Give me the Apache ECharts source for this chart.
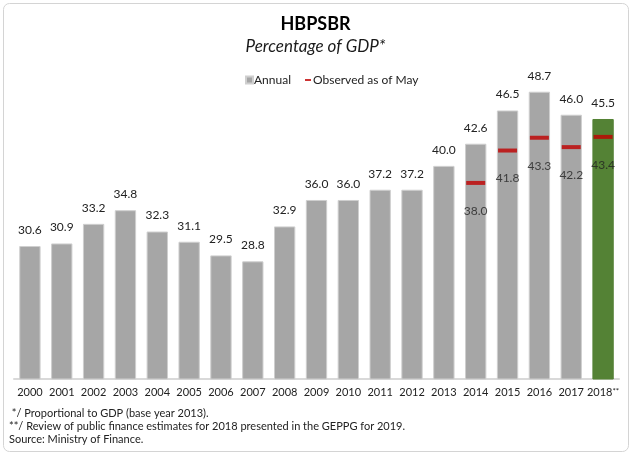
<!DOCTYPE html>
<html>
<head>
<meta charset="utf-8">
<script src="https://cdn.jsdelivr.net/npm/echarts@6/dist/echarts.min.js"></script>
<style>
  html, body { margin: 0; padding: 0; background: #fff; }
  #chart { width: 631px; height: 453px; }
</style>
</head>
<body>
<div id="chart"></div>
<script>
const years = ['2000', '2001', '2002', '2003', '2004', '2005', '2006', '2007', '2008', '2009',
  '2010', '2011', '2012', '2013', '2014', '2015', '2016', '2017', '2018**'];
const annual = [30.6, 30.9, 33.2, 34.8, 32.3, 31.1, 29.5, 28.8, 32.9, 36.0,
  36.0, 37.2, 37.2, 40.0, 42.6, 46.5, 48.7, 46.0, 45.5];
const mayYears = ['2014', '2015', '2016', '2017', '2018**'];
const mayValues = [38.0, 41.8, 43.3, 42.2, 43.4];
const notes = [
  ' */ Proportional to GDP (base year 2013).',
  '**/ Review of public finance estimates for 2018 presented in the GEPPG for 2019.',
  'Source: Ministry of Finance.'
];

const font = 'Lato';
const chart = echarts.init(document.getElementById('chart'));

const barData = annual.map((v, i) => {
  if (i === annual.length - 1) {
    return { value: v, itemStyle: { color: '#548235', borderColor: '#548235' } };
  }
  return v;
});

const option = {
  animation: false,
  textStyle: { fontFamily: font },
  title: {
    text: 'HBPSBR',
    subtext: 'Percentage of GDP*',
    left: 'center',
    top: 10,
    itemGap: 5,
    textStyle: { fontFamily: font, fontSize: 18, fontWeight: 'bold', color: '#000' },
    subtextStyle: { fontFamily: font, fontSize: 17, fontStyle: 'italic', color: '#1a1a1a' }
  },
  legend: [
    {
      data: ['Annual'],
      left: 240,
      top: 69,
      itemWidth: 7,
      itemHeight: 7,
      icon: 'rect',
      textStyle: { fontFamily: font, fontSize: 12, color: '#222', padding: [0, 0, 0, -4] }
    },
    {
      data: ['Observed as of May'],
      left: 300,
      top: 69,
      itemWidth: 6,
      itemHeight: 2,
      icon: 'rect',
      textStyle: { fontFamily: font, fontSize: 12, color: '#222', padding: [0, 0, 0, -3] }
    }
  ],
  grid: { left: 14, right: 12, top: 38, bottom: 74 },
  xAxis: {
    type: 'category',
    data: years,
    axisTick: { show: false },
    axisLine: { lineStyle: { color: '#d9d9d9', width: 2 } },
    axisLabel: {
      fontFamily: font,
      fontSize: 11,
      color: '#222',
      margin: 8,
      interval: 0,
      formatter: v => v.endsWith('**') ? v.slice(0, -2) + '{s|**}' : v,
      rich: { s: { fontFamily: font, fontSize: 8, color: '#222', verticalAlign: 'top', padding: [0, 0, 3, 0] } }
    }
  },
  yAxis: {
    type: 'value',
    min: 15,
    max: 55,
    show: false
  },
  graphic: [
    {
      type: 'rect',
      shape: { x: 3.5, y: 3.5, width: 625, height: 448, r: 6 },
      style: { fill: 'none', stroke: '#d4d4d4', lineWidth: 1 },
      silent: true
    },
    {
      type: 'text',
      left: 9,
      top: 407,
      style: {
        text: notes.join('\n'),
        fontFamily: font,
        fontSize: 11,
        lineHeight: 13,
        fill: '#222'
      }
    }
  ],
  series: [
    {
      name: 'Annual',
      type: 'bar',
      data: barData,
      barWidth: '67%',
      itemStyle: { color: '#a6a6a6', borderColor: '#cfcfcf', borderWidth: 1 },
      label: {
        show: true,
        position: 'top',
        distance: 10,
        fontFamily: font,
        fontSize: 12,
        color: '#222',
        formatter: p => p.value.toFixed(1)
      }
    },
    {
      name: 'Observed as of May',
      type: 'scatter',
      data: mayYears.map((y, i) => [y, mayValues[i]]),
      symbol: 'rect',
      symbolSize: [19, 4],
      itemStyle: { color: '#c00000' },
      z: 5,
      label: {
        show: true,
        position: 'bottom',
        distance: 20,
        fontFamily: font,
        fontSize: 12,
        color: '#222',
        formatter: p => p.value[1].toFixed(1)
      }
    }
  ]
};

chart.setOption(option);
window.addEventListener('resize', function () {
  chart.resize();
});
</script>
</body>
</html>
